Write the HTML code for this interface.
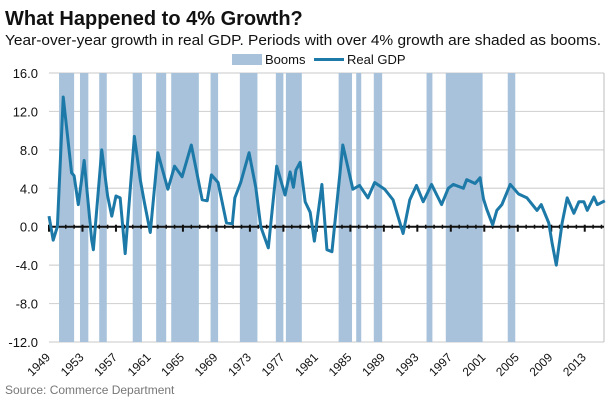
<!DOCTYPE html>
<html><head><meta charset="utf-8"><style>
body{margin:0;background:#fff;width:609px;height:400px;overflow:hidden;font-family:"Liberation Sans",sans-serif}
</style></head><body>
<svg width="609" height="400" xmlns="http://www.w3.org/2000/svg">
<text x="5" y="25" font-size="20" font-weight="bold" fill="#111">What Happened to 4% Growth?</text>
<text x="5" y="45" font-size="14.5" fill="#111" textLength="596" lengthAdjust="spacingAndGlyphs">Year-over-year growth in real GDP. Periods with over 4% growth are shaded as booms.</text>
<g>
<rect x="232" y="54" width="30" height="11" fill="#a7c2da"/>
<text x="265" y="64" font-size="13" fill="#111">Booms</text>
<line x1="314" y1="59.5" x2="344" y2="59.5" stroke="#1d7aa8" stroke-width="3"/>
<text x="347" y="64" font-size="13" fill="#111">Real GDP</text>
</g>
<g id="grid"></g><g id="booms"></g><g id="axes"></g><g id="series"></g><g id="xlabels"></g>
<text x="5" y="394" font-size="12" fill="#777">Source: Commerce Department</text>
</svg>
<script>
const yTicks=[16,12,8,4,0,-4,-8,-12];
const yTickLabels=["16.0","12.0","8.0","4.0","0.0","-4.0","-8.0","-12.0"];
const xTickLabels=["1949","1953","1957","1961","1965","1969","1973","1977","1981","1985","1989","1993","1997","2001","2005","2009","2013"];
const boomStarts=[1950.2,1952.7,1955.0,1959.0,1961.8,1963.6,1968.3,1971.8,1976.1,1977.3,1983.6,1985.7,1987.8,1994.1,1996.4,2003.8];
const boomEnds=[1952.0,1953.7,1955.9,1960.1,1963.0,1966.9,1969.2,1973.9,1977.0,1979.2,1985.2,1986.3,1988.8,1994.8,2000.8,2004.7];
const gdpYears=[1949,1949.5,1950,1950.7,1951.7,1952,1952.5,1953.2,1954.1,1954.3,1955.3,1956,1956.5,1957,1957.5,1958.1,1959.2,1959.9,1960.4,1961.1,1962,1963.2,1964,1964.9,1966,1967.3,1967.9,1968.4,1969.2,1970.2,1970.9,1971.2,1971.9,1972.9,1973.7,1974.3,1975.2,1976.2,1977.2,1977.8,1978.2,1978.5,1979,1979.6,1980.2,1980.7,1981.6,1982.2,1982.8,1984.1,1985.3,1986.1,1987.1,1987.9,1989.1,1990.1,1991.3,1992.1,1992.9,1993.7,1994.7,1995.9,1996.7,1997.3,1998.5,1998.9,1999.9,2000.5,2000.9,2001.3,2002,2002.5,2003.1,2004.1,2005.1,2006.1,2007.3,2007.8,2008.7,2009.1,2009.6,2010.3,2010.9,2011.7,2012.3,2012.9,2013.3,2014.1,2014.5,2015.4];
const gdpValues=[1.1,-1.4,0,13.5,5.6,5.3,2.3,6.9,-1.4,-2.4,8.0,3.2,1.1,3.2,3.0,-2.8,9.4,4.9,2.5,-0.6,7.7,3.9,6.3,5.2,8.5,2.8,2.7,5.4,4.6,0.4,0.3,3.0,4.6,7.7,4.1,0.0,-2.2,6.3,3.3,5.7,4.1,5.9,6.7,2.6,1.5,-1.5,4.4,-2.4,-2.6,8.5,3.9,4.3,3.0,4.6,3.9,2.8,-0.7,2.8,4.3,2.6,4.4,2.3,4.0,4.4,4.0,4.9,4.5,5.1,2.9,1.8,0.2,1.7,2.3,4.4,3.4,3.0,1.7,2.3,0.4,-1.7,-4.0,0.4,3.0,1.4,2.6,2.6,1.7,3.1,2.3,2.7];
const L=49,R=604,T=73,B=342,X0=1949,X1=2015.3;
const x=v=>L+(v-X0)/(X1-X0)*(R-L);
const y=v=>T+(16-v)/28*(B-T);
const NS="http://www.w3.org/2000/svg";
function mk(tag,parent,attrs){const e=document.createElementNS(NS,tag);for(const k in attrs)e.setAttribute(k,attrs[k]);document.getElementById(parent).appendChild(e);return e;}
yTicks.forEach((t,i)=>{
 const g=mk('line','grid',{x1:L,x2:R,y1:y(t),y2:y(t),stroke:'#d4d4d4','stroke-width':1.2});
 
 
 const tx=mk('text','grid',{x:38,y:y(t)+5,'font-size':13,'text-anchor':'end',fill:'#111'});
 tx.textContent=yTickLabels[i];
 
 
});
const rb=mk('line','grid',{x1:R,x2:R,y1:T,y2:B,stroke:'#c8c8c8','stroke-width':1.2});


boomStarts.forEach((s,i)=>{
 const r=mk('rect','booms',{x:x(s),y:T,width:x(boomEnds[i])-x(s),height:B-T,fill:'#a7c2da'});
 
 
});
const ax=mk('line','axes',{x1:L,x2:R,y1:y(0),y2:y(0),stroke:'#111','stroke-width':2});


for(let yr=1949;yr<=2015;yr++){
 const major=(yr-1949)%4===0;
 const tk=mk('line','axes',{x1:x(yr),x2:x(yr),y1:y(0)-2,y2:y(0)+(major?5:2),stroke:'#111','stroke-width':major?2:1.5});
 
 
}
xTickLabels.forEach(lbl=>{
 const xx=x(+lbl);
 const t=mk('text','xlabels',{x:xx+2,y:358,'font-size':12,'text-anchor':'end',fill:'#111',transform:`rotate(-45 ${xx+2} 358)`});
 t.textContent=lbl;
 
 
});
const p=mk('polyline','series',{points:gdpYears.map((v,i)=>x(v)+','+y(gdpValues[i])).join(' '),fill:'none',stroke:'#1d7aa8','stroke-width':3,'stroke-linejoin':'round'});


</script>
</body></html>
